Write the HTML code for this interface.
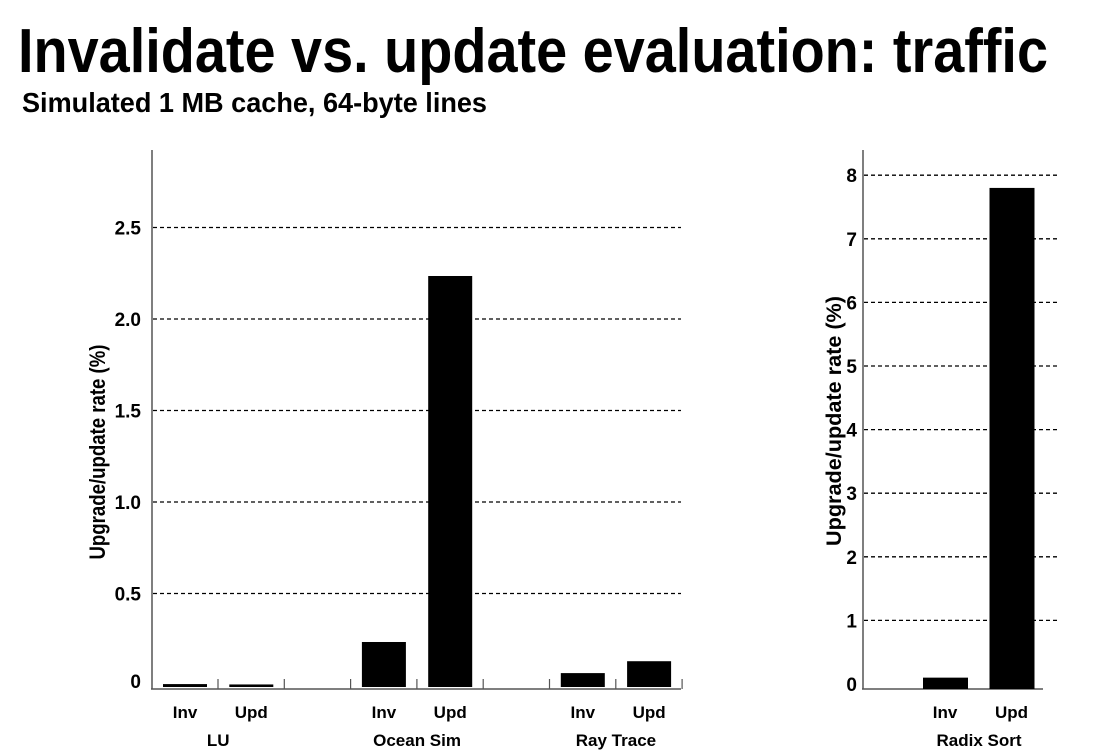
<!DOCTYPE html>
<html><head><meta charset="utf-8"><style>
body{margin:0;background:#fff}
svg{display:block;font-family:"Liberation Sans",sans-serif;font-weight:bold}
</style></head><body>
<svg id="c" width="1095" height="754" viewBox="0 0 1095 754">
<text x="18" y="72" font-size="62" textLength="1030" lengthAdjust="spacingAndGlyphs">Invalidate vs. update evaluation: traffic</text>
<text x="22" y="112" font-size="28" textLength="465" lengthAdjust="spacingAndGlyphs">Simulated 1 MB cache, 64-byte lines</text>
<g id="left"></g>
<g id="right"></g>
</svg>
<script>
const groupsL = ["LU","Ocean Sim","Ray Trace"];
const invL = [0.005, 0.235, 0.065];
const updL = [0.003, 2.235, 0.13];
const ticksL = [0.5, 1.0, 1.5, 2.0, 2.5];
const tickLabelsL = ["0.5","1.0","1.5","2.0","2.5"];
const groupsR = ["Radix Sort"];
const invR = [0.1];
const updR = [7.8];
const ticksR = [1,2,3,4,5,6,7,8];
const barLabels = ["Inv","Upd"];

const NS="http://www.w3.org/2000/svg";
function mk(parent,tag,attrs,text){const e=document.createElementNS(NS,tag);for(const k in attrs)e.setAttribute(k,attrs[k]);if(text!=null)e.textContent=text;parent.appendChild(e);return e;}

// Left chart
const L=document.getElementById('left');
const yL=v=>685-v*183;
const slotL=i=>185+i*66.3;
mk(L,'line',{x1:152,y1:150,x2:152,y2:689,stroke:'#555','stroke-width':1.5});
mk(L,'line',{x1:151,y1:689,x2:681,y2:689,stroke:'#555','stroke-width':1.5});
ticksL.forEach((t,i)=>{
  const g=mk(L,'line',{x1:153,x2:681,y1:yL(t),y2:yL(t),stroke:'#000','stroke-dasharray':'4,3','stroke-width':1.3});
  
  
  const tl=mk(L,'text',{x:141,y:yL(t)+7,'font-size':19,'text-anchor':'end'},tickLabelsL[i]);
  
  
});
const z=mk(L,'text',{x:141,y:688,'font-size':19,'text-anchor':'end'},"0");


for(let k=0;k<8;k++){const x=218+k*66.3;mk(L,'line',{x1:x,x2:x,y1:679,y2:689,stroke:'#555','stroke-width':1.2});}
groupsL.forEach((g,i)=>{
  [invL[i],updL[i]].forEach((v,j)=>{
    const cx=slotL(i*3+j);
    const r=mk(L,'rect',{x:cx-22,y:yL(v),width:44,height:Math.max(1.5,685-yL(v)+2),fill:'#000'});
    
    
    const t=mk(L,'text',{x:cx,y:718,'font-size':17,'text-anchor':'middle'},barLabels[j]);
    
    
  });
  const gl=mk(L,'text',{x:(slotL(i*3)+slotL(i*3+1))/2,y:746,'font-size':17,'text-anchor':'middle'},g);
  
  
});
const yt=mk(L,'text',{x:0,y:0,'font-size':22,'text-anchor':'middle',textLength:215,lengthAdjust:'spacingAndGlyphs',transform:'translate(105,452) rotate(-90)'},"Upgrade/update rate (%)");



// Right chart
const R=document.getElementById('right');
const yR=v=>684-v*63.6;
mk(R,'line',{x1:863,y1:150,x2:863,y2:689,stroke:'#555','stroke-width':1.5});
mk(R,'line',{x1:862,y1:689,x2:1043,y2:689,stroke:'#555','stroke-width':1.5});
ticksR.forEach(t=>{
  const g=mk(R,'line',{x1:864,x2:1057,y1:yR(t),y2:yR(t),stroke:'#000','stroke-dasharray':'4,3','stroke-width':1.3});
  
  
  const tl=mk(R,'text',{x:857,y:yR(t)+7,'font-size':19,'text-anchor':'end'},String(t));
  
  
});
const z2=mk(R,'text',{x:857,y:691,'font-size':19,'text-anchor':'end'},"0");


[invR[0],updR[0]].forEach((v,j)=>{
  const cx=945+j*66.5;
  const r=mk(R,'rect',{x:cx-22,y:yR(v),width:45,height:689-yR(v),fill:'#000'});
  
  
  const t=mk(R,'text',{x:cx,y:718,'font-size':17,'text-anchor':'middle'},barLabels[j]);
  
  
});
const gr=mk(R,'text',{x:979,y:746,'font-size':17,'text-anchor':'middle'},groupsR[0]);


const yt2=mk(R,'text',{x:0,y:0,'font-size':21,'text-anchor':'middle',textLength:250,lengthAdjust:'spacingAndGlyphs',transform:'translate(841,421) rotate(-90)'},"Upgrade/update rate (%)");


</script>
</body></html>
